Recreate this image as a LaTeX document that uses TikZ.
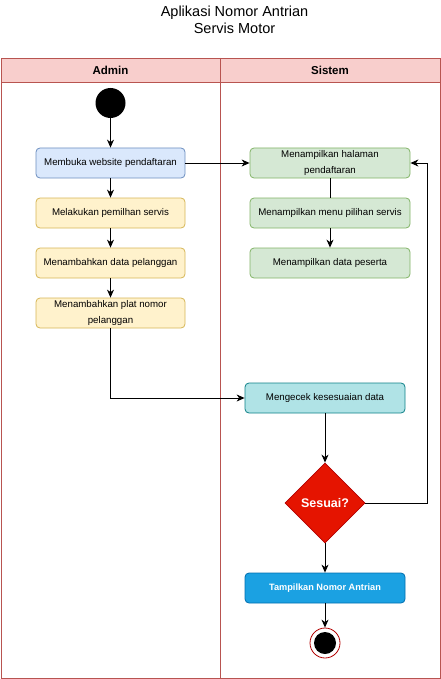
\documentclass[tikz,border=0pt]{standalone}
\usepackage{fontspec}
\setmainfont{Liberation Sans}
\usetikzlibrary{shapes,arrows,arrows.meta,positioning}
\definecolor{laneline}{HTML}{B85450}
\definecolor{lanehead}{HTML}{F8CECC}
\definecolor{blueline}{HTML}{6C8EBF}
\definecolor{bluefill}{HTML}{DAE8FC}
\definecolor{yellowline}{HTML}{D6B656}
\definecolor{yellowfill}{HTML}{FFF2CC}
\definecolor{greenline}{HTML}{82B366}
\definecolor{greenfill}{HTML}{D5E8D4}
\definecolor{tealline}{HTML}{0E8088}
\definecolor{tealfill}{HTML}{B0E3E6}
\definecolor{redline}{HTML}{B20000}
\definecolor{redfill}{HTML}{E51400}
\definecolor{skyline}{HTML}{006EAF}
\definecolor{skyfill}{HTML}{1BA1E2}
\tikzset{
    act/.style={
           rectangle,
           rounded corners=4pt,
           line width=0.8pt,
           minimum height=30pt,
           minimum width=149pt,
           inner sep=0pt,
           align=center,
           font=\fontsize{9.7}{15.5}\selectfont
           },
    admin/.style={act, draw=yellowline, fill=yellowfill},
    sistem/.style={act, draw=greenline, fill=greenfill, minimum width=160pt},
    cek/.style={act, draw=tealline, fill=tealfill, minimum width=160pt},
    hasil/.style={act, draw=skyline, fill=skyfill, minimum width=160pt,
           text=white, font=\fontsize{9.2}{12}\selectfont\bfseries},
    decision/.style={
           diamond,
           draw=redline, fill=redfill,
           line width=0.8pt,
           minimum width=80pt,
           minimum height=80pt,
           inner sep=0pt,
           text=white,
           font=\fontsize{12.5}{14}\selectfont\bfseries
           },
    lanetitle/.style={
		   font=\fontsize{11.5}{14}\selectfont\bfseries
           },
    flow/.style={line width=0.9pt, ->}
}
\begin{document}
\begin{tikzpicture}[x=1pt, y=-1pt, >={Stealth[length=8pt,width=7pt,inset=2.5pt]},
    node distance=50pt, on grid]
   \useasboundingbox (0,0) rectangle (441,679);

   % swimlanes
   \draw[laneline, line width=0.9pt, fill=lanehead] (1,58) rectangle (440,82);
   \draw[laneline, line width=0.9pt] (1,82) rectangle (440,678);
   \draw[laneline, line width=0.9pt] (220,58) -- (220,678);
   \node[font=\fontsize{14.5}{17}\selectfont, align=center] (judul) at (234.5,19.5)
        {Aplikasi Nomor Antrian\\Servis Motor};
   \node[lanetitle] (lane1) at (110.5,70) {Admin};
   \node[lanetitle] (lane2) at (330,70) {Sistem};

   % admin
   \node[circle, fill=black, minimum size=30pt, inner sep=0pt] (mulai) at (110.5,103) {};
   \node[act, draw=blueline, fill=bluefill] (1) at (110.5,163) {Membuka website pendaftaran};
   \node[admin] (2) [below=of 1] {Melakukan pemilhan servis};
   \node[admin] (3) [below=of 2] {Menambahkan data pelanggan};
   \node[admin] (4) [below=of 3] {Menambahkan plat nomor\\pelanggan};

   % sistem
   \node[sistem] (5) [right=219.5pt of 1] {Menampilkan halaman\\pendaftaran};
   \node[sistem] (6) [below=of 5] {Menampilkan menu pilihan servis};
   \node[sistem] (7) [below=of 6] {Menampilkan data peserta};
   \node[cek] (8) at (325,398) {Mengecek kesesuaian data};
   \node[decision] (9) [below=105pt of 8] {Sesuai?};
   \node[hasil] (10) [below=85pt of 9] {Tampilkan Nomor Antrian};
   \node[circle, draw=redline, fill=white, line width=0.8pt, minimum size=30pt,
         inner sep=0pt] (selesai) [below=55pt of 10] {};
   \node[circle, fill=black, minimum size=22pt, inner sep=0pt] (selesai2) at (selesai) {};
   \coordinate (balik) at (427.5,163);

   \draw[flow] (mulai) -- (1);
   \draw[flow] (1) -- (2);
   \draw[flow] (2) -- (3);
   \draw[flow] (3) -- (4);
   \draw[flow] (1) -- (5);
   \draw[line width=0.9pt] (5) -- (6);
   \draw[flow] (6) -- (7);
   \draw[flow] (4.south) |- (8.west);
   \draw[flow] (8) -- (9);
   \draw[flow] (9.east) -| (balik) -- (5.east);
   \draw[flow] (9) -- (10);
   \draw[flow] (10) -- (selesai);
\end{tikzpicture}
\end{document}
